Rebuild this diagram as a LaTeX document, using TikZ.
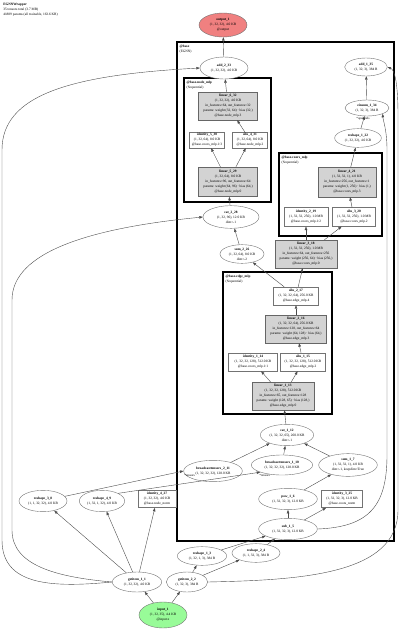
\documentclass[tikz,border=0pt]{standalone}
\usepackage{fontspec}
\setmainfont{Liberation Serif}
\usetikzlibrary{shapes.geometric,arrows.meta}
\definecolor{outcol}{HTML}{F08080}
\definecolor{incol}{HTML}{98FB98}
\definecolor{prmcol}{HTML}{D3D3D3}

\begin{document}
\begin{tikzpicture}[
  x=0.75pt, y=-0.75pt,
  every node/.style={font=\fontsize{2.6}{3.75}\selectfont, align=center, inner sep=0pt},
  %% tensor / function ops -- ellipses
  fn/.style={ellipse, draw=black!55, line width=0.3pt, fill=white},
  %% modules without params
  md/.style={rectangle, draw=black!55, line width=0.3pt, fill=white},
  %% modules with params -- gray fill
  pm/.style={rectangle, draw=black!60, line width=0.3pt, fill=prmcol},
  sz/.style 2 args={minimum width=#1pt, minimum height=#2pt},
  %% module frames
  grp/.style={draw=black, line width=0.9pt},
  grplbl/.style={anchor=north west, align=left, inner sep=1pt},
  elbl/.style={font=\fontsize{2.4}{3}\selectfont},
  ar/.style={-{Triangle[length=2.6pt,width=1.9pt]}, black!70, line width=0.3pt},
]
\useasboundingbox (0,0) rectangle (400,629);

%%-- header --------------------------------------------------------------
\node[grplbl, inner sep=0pt] (hdr) at (3,3)
  {\textbf{EGNNWrapper}\\35 tensors total (3.7 MB)\\41889 params (all trainable, 163.6 KB)};

%%-- frames ----------------------------------------------------------------
\draw[grp, line width=1.1pt] (177,42) rectangle (394,541);
\node[grplbl] (gbase) at (178,43) {\textbf{@base}\\(EGNN)};
\draw[grp] (184,78) rectangle (271,202);
\node[grplbl] (gnode) at (185,79) {\textbf{@base.node\_mlp}\\(Sequential)};
\draw[grp] (279,153) rectangle (382,236);
\node[grplbl] (gcoor) at (280,154) {\textbf{@base.coors\_mlp}\\(Sequential)};
\draw[grp] (223,272) rectangle (332,414);
\node[grplbl] (gedge) at (224,273) {\textbf{@base.edge\_mlp}\\(Sequential)};

%%-- output ----------------------------------------------------------------
\node[fn, fill=outcol, sz={36}{18}] (out1) at (223,25)
  {\textbf{output\_1}\\(1, 32, 32), 4.0 KB\\@output};

\node[fn, sz={36}{16.5}] (add233) at (224,68) {\textbf{add\_2\_33}\\(1, 32, 32), 4.0 KB};
\node[fn, sz={32}{13.5}] (add135) at (366,67) {\textbf{add\_1\_35}\\(1, 32, 3), 384 B};
\node[fn, sz={33}{12}] (einsum134) at (367,108) {\textbf{einsum\_1\_34}\\(1, 32, 3), 384 B};
\node[fn, sz={35}{14}] (reshape122) at (358,138) {\textbf{reshape\_1\_22}\\(1, 32, 32), 4.0 KB};

%%-- node mlp ----------------------------------------------------------------
\node[pm, sz={44}{21}] (linear632) at (228,106)
  {\textbf{linear\_6\_32}\\(1, 32, 32), 4.0 KB\\in\_features=64, out\_features=32\\
   params: weight (32, 64) · bias (32,)\\@base.node\_mlp.3};
\node[md, sz={26}{12}] (identity530) at (207,140)
  {\textbf{identity\_5\_30}\\(1, 32, 64), 8.0 KB\\@base.coors\_mlp.1:3};
\node[md, sz={26}{12}] (silu431) at (250,140)
  {\textbf{silu\_4\_31}\\(1, 32, 64), 8.0 KB\\@base.node\_mlp.2};
\node[pm, sz={44}{22}] (linear529) at (228,182)
  {\textbf{linear\_5\_29}\\(1, 32, 64), 8.0 KB\\in\_features=96, out\_features=64\\
   params: weight (64, 96) · bias (64,)\\@base.node\_mlp.0};
\node[fn, sz={42}{17}] (cat228) at (231,217) {\textbf{cat\_2\_28}\\(1, 32, 96), 12.0 KB\\dim=-1};
\node[fn, sz={33}{14}] (sum226) at (242,254) {\textbf{sum\_2\_26}\\(1, 32, 64), 8.0 KB\\dim=-2};

%%-- coors mlp ---------------------------------------------------------------
\node[pm, sz={43.5}{22.5}] (linear421) at (347,182)
  {\textbf{linear\_4\_21}\\(1, 32, 32, 1), 4.0 KB\\in\_features=256, out\_features=1\\
   params: weight (1, 256) · bias (1,)\\@base.coors\_mlp.3};
\node[md, sz={33}{14}] (identity219) at (306,217)
  {\textbf{identity\_2\_19}\\(1, 32, 32, 256), 1.0 MB\\@base.coors\_mlp.1:2};
\node[md, sz={32}{14}] (silu320) at (354,217)
  {\textbf{silu\_3\_20}\\(1, 32, 32, 256), 1.0 MB\\@base.coors\_mlp.2};
\node[pm, sz={46.5}{21}] (linear318) at (306,254)
  {\textbf{linear\_3\_18}\\(1, 32, 32, 256), 1.0 MB\\in\_features=64, out\_features=256\\
   params: weight (256, 64) · bias (256,)\\@base.coors\_mlp.0};

%%-- edge mlp ----------------------------------------------------------------
\node[md, sz={34}{13.5}] (silu217) at (296,296)
  {\textbf{silu\_2\_17}\\(1, 32, 32, 64), 256.0 KB\\@base.edge\_mlp.4};
\node[pm, sz={46}{21}] (linear216) at (296,329)
  {\textbf{linear\_2\_16}\\(1, 32, 32, 64), 256.0 KB\\in\_features=128, out\_features=64\\
   params: weight (64, 128) · bias (64,)\\@base.edge\_mlp.3};
\node[md, sz={37}{13.5}] (identity114) at (253,362)
  {\textbf{identity\_1\_14}\\(1, 32, 32, 128), 512.0 KB\\@base.coors\_mlp.1:1};
\node[md, sz={34}{13.5}] (silu115) at (303,362)
  {\textbf{silu\_1\_15}\\(1, 32, 32, 128), 512.0 KB\\@base.edge\_mlp.2};
\node[pm, sz={46.5}{21}] (linear113) at (283,396)
  {\textbf{linear\_1\_13}\\(1, 32, 32, 128), 512.0 KB\\in\_features=65, out\_features=128\\
   params: weight (128, 65) · bias (128,)\\@base.edge\_mlp.0};

%%-- edge inputs ---------------------------------------------------------------
\node[fn, sz={40}{16}] (cat112) at (287,435) {\textbf{cat\_1\_12}\\(1, 32, 32, 65), 260.0 KB\\dim=-1};
\node[fn, sz={44}{16}] (bt211) at (213,471) {\textbf{broadcasttensors\_2\_11}\\(1, 32, 32, 32), 128.0 KB};
\node[fn, sz={46}{15}] (bt110) at (282,465) {\textbf{broadcasttensors\_1\_10}\\(1, 32, 32, 32), 128.0 KB};
\node[fn, sz={44}{17}] (sum17) at (348,465) {\textbf{sum\_1\_7}\\(1, 32, 32, 1), 4.0 KB\\dim=-1, keepdim=True};
\node[fn, sz={44}{16}] (pow16) at (288,499) {\textbf{pow\_1\_6}\\(1, 32, 32, 3), 12.0 KB};
\node[md, sz={31}{13}] (identity325) at (342,499)
  {\textbf{identity\_3\_25}\\(1, 32, 32, 3), 12.0 KB\\@base.coors\_norm};
\node[fn, sz={44}{16}] (sub15) at (288,529) {\textbf{sub\_1\_5}\\(1, 32, 32, 3), 12.0 KB};

%%-- outside the frame -------------------------------------------------------
\node[fn, sz={36}{16}] (reshape38) at (43,501) {\textbf{reshape\_3\_8}\\(1, 1, 32, 32), 4.0 KB};
\node[fn, sz={34}{16}] (reshape49) at (102,501) {\textbf{reshape\_4\_9}\\(1, 32, 1, 32), 4.0 KB};
\node[md, sz={28.5}{13}] (identity427) at (157,499)
  {\textbf{identity\_4\_27}\\(1, 32, 32), 4.0 KB\\@base.node\_norm};
\node[fn, sz={37}{14}] (reshape13) at (202,556) {\textbf{reshape\_1\_3}\\(1, 32, 1, 3), 384 B};
\node[fn, sz={36}{14}] (reshape24) at (256,553) {\textbf{reshape\_2\_4}\\(1, 1, 32, 3), 384 B};
\node[fn, sz={37}{15}] (getitem11) at (137,582) {\textbf{getitem\_1\_1}\\(1, 32, 32), 4.0 KB};
\node[fn, sz={31}{15}] (getitem22) at (187,582) {\textbf{getitem\_2\_2}\\(1, 32, 3), 384 B};
\node[fn, fill=incol, sz={36}{19.5}] (in1) at (163,615)
  {\textbf{input\_1}\\(1, 32, 35), 4.4 KB\\@input.x};

%%-- straight edges ----------------------------------------------------------
\foreach \s/\t in {in1/getitem11, in1/getitem22,
  getitem11/reshape38, getitem11/reshape49, getitem11/identity427,
  getitem22/reshape13, getitem22/reshape24,
  reshape13/sub15, reshape24/sub15, sub15/pow16, sub15/identity325,
  pow16/sum17, sum17/cat112, bt211/cat112, bt110/cat112,
  cat112/linear113, linear113/identity114, linear113/silu115,
  silu115/linear216, linear216/silu217, silu217/linear318, silu217/sum226,
  linear318/identity219, linear318/silu320, silu320/linear421,
  linear421/reshape122, reshape122/einsum134, einsum134/add135,
  sum226/cat228, cat228/linear529, linear529/identity530, linear529/silu431,
  silu431/linear632, linear632/add233, add233/out1}
  \draw[ar] (\s) -- (\t);

\draw[ar] (reshape38) -- (bt211.west);
\draw[ar] (reshape49.north east) -- (bt110.south west);
\node[elbl, anchor=north west] (lbt2) at (184,474) {*tensors};
\node[elbl, anchor=north west] (lbt1) at (259,474) {*tensors};
\node[elbl] (lein) at (363,119) {*operands};

%%-- long curved edges ---------------------------------------------------------
\draw[ar] (getitem11.west) .. controls (50,588) and (2,585) .. (2,540)
  -- (2,150) .. controls (2,95) and (70,75) .. (add233.west);
\draw[ar] (getitem11.west) .. controls (55,577) and (12,565) .. (12,530)
  -- (12,300) .. controls (12,252) and (90,228) .. (cat228.west);
\draw[ar] (getitem22.east) .. controls (300,580) and (398,575) .. (398,510)
  -- (398,115) .. controls (398,85) and (395,70) .. (add135.east);
\draw[ar] (sub15.east) .. controls (370,527) and (387,505) .. (387,455)
  -- (387,150) .. controls (387,130) and (383,120) .. (einsum134.south east);

\end{tikzpicture}
\end{document}
